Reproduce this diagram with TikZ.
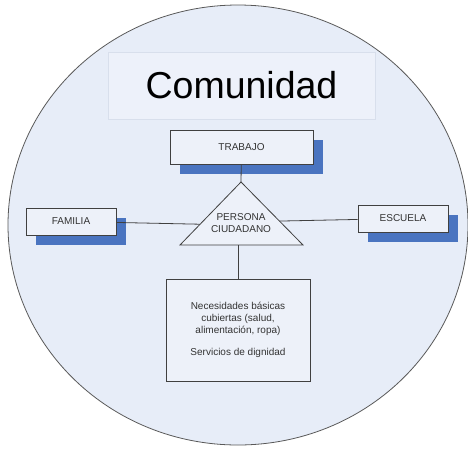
\documentclass[tikz,border=0pt]{standalone}
\usepackage{fontspec}
\setmainfont{Liberation Sans}
\usetikzlibrary{calc,shadows}
\definecolor{comfill}{HTML}{E7EDF8}
\definecolor{titlefill}{HTML}{EDF1FA}
\definecolor{titleline}{HTML}{D8DFEC}
\definecolor{boxfill}{HTML}{EDF1F9}
\definecolor{boxline}{HTML}{404040}
\definecolor{shadowblue}{HTML}{4A74C0}
\definecolor{txtgray}{HTML}{333333}
\begin{document}
\begin{tikzpicture}[x=1pt,y=-1pt,
    itembox/.style={draw=boxline,fill=boxfill,text=txtgray,inner sep=0pt,line width=0.8pt,
      font=\fontsize{10}{12}\selectfont,align=center},
    shadowbox/.style={itembox,drop shadow={shadow xshift=10pt,shadow yshift=-10pt,fill=shadowblue,opacity=1}},
    link/.style={draw=boxline,line width=0.8pt}]
    \useasboundingbox (0,0) rectangle (468,448);
    % comunidad
    \draw[fill=comfill,draw=black!65,line width=0.8pt] (238,225) ellipse [x radius=230pt,y radius=220pt];
    \node[draw=titleline,fill=titlefill,minimum width=267pt,minimum height=67pt,inner sep=0pt,
      font=\fontsize{37.5}{40}\selectfont] (C) at (241.5,85.5) {Comunidad};
    % persona
    \coordinate (apex) at (241,182);
    \coordinate (bl) at (180,245);
    \coordinate (br) at (303,245);
    \draw[link,fill=boxfill] (apex) -- (bl) -- (br) -- cycle;
    \node[text=txtgray,font=\fontsize{10}{12}\selectfont,align=center] (P) at (241,223) {PERSONA\\CIUDADANO};
    \coordinate (pl) at ($(apex)!0.67!(bl)$);
    \coordinate (pr) at ($(apex)!0.62!(br)$);
    % entorno
    \node[shadowbox,minimum width=143pt,minimum height=34pt] (T) at (241.5,147) {TRABAJO};
    \node[shadowbox,minimum width=90pt,minimum height=27pt] (F) at (71,221.5) {FAMILIA};
    \node[shadowbox,minimum width=90pt,minimum height=27pt] (E) at (403,218.5) {ESCUELA};
    \node[itembox,minimum width=144pt,minimum height=102pt] (N) at (238,330)
      {Necesidades básicas\\cubiertas (salud,\\alimentación, ropa)\\[10pt]Servicios de dignidad};
    \draw[link] (T) -- (apex);
    \draw[link] (F) -- (pl);
    \draw[link] (E) -- (pr);
    \draw[link] (N) -- (N.north |- bl);
\end{tikzpicture}
\end{document}
